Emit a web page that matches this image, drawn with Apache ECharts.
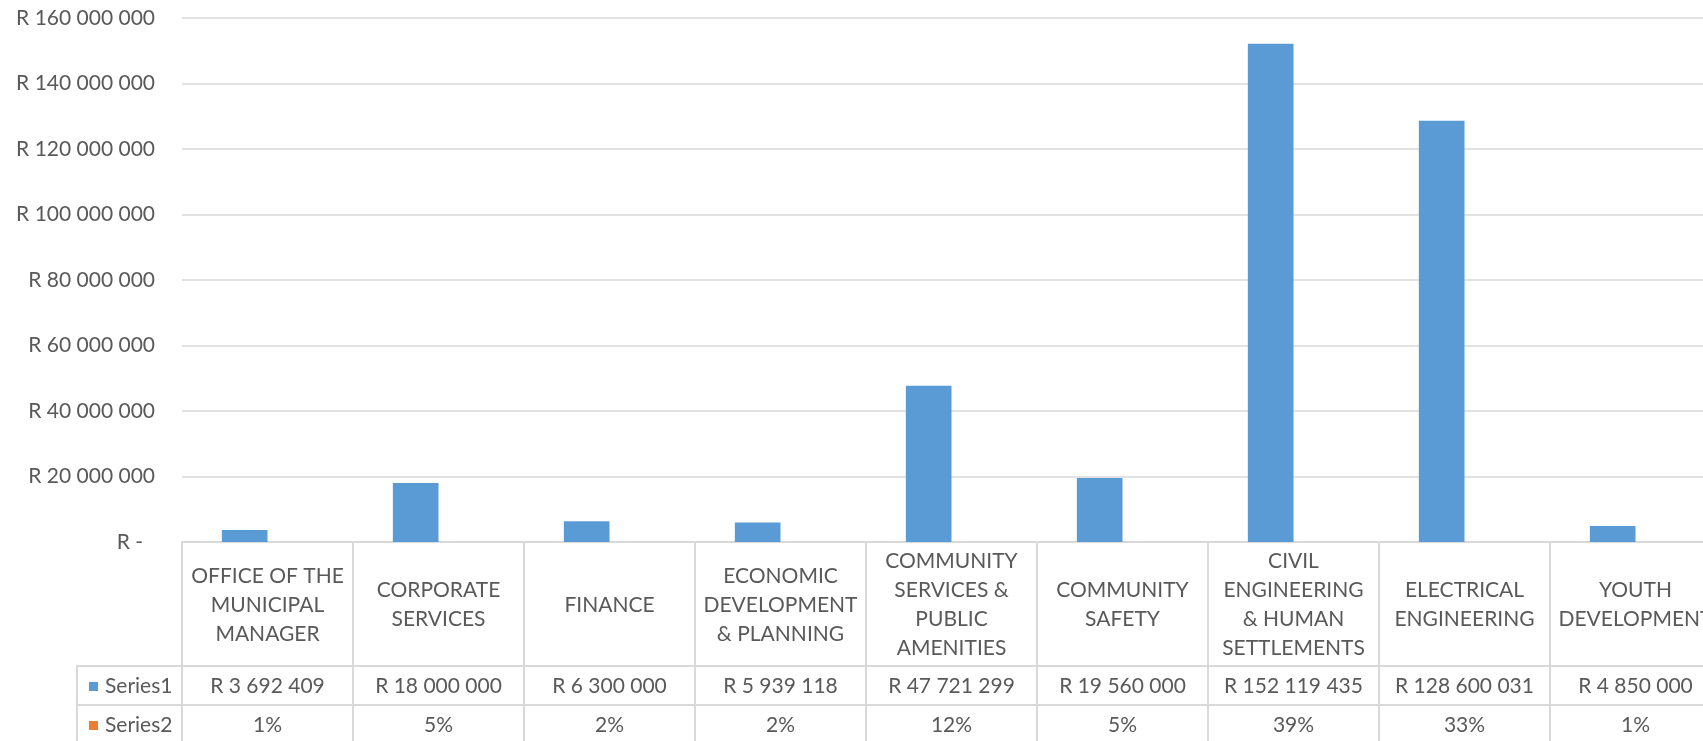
<!DOCTYPE html>
<html>
<head>
<meta charset="utf-8">
<script src="https://cdn.jsdelivr.net/npm/echarts@6/dist/echarts.min.js"></script>
<style>
  html, body { margin: 0; padding: 0; background: #fff; overflow: hidden; }
  /* the table runs past the right and bottom edges of the window */
  #chart { width: 1721px; height: 780px; }
</style>
</head>
<body>
<div id="chart"></div>
<script>
// Departments (header row of the data table, wrapped as in the table cells)
const categories = [
  'OFFICE OF THE\nMUNICIPAL\nMANAGER',
  'CORPORATE\nSERVICES',
  'FINANCE',
  'ECONOMIC\nDEVELOPMENT\n& PLANNING',
  'COMMUNITY\nSERVICES &\nPUBLIC\nAMENITIES',
  'COMMUNITY\nSAFETY',
  'CIVIL\nENGINEERING\n& HUMAN\nSETTLEMENTS',
  'ELECTRICAL\nENGINEERING',
  'YOUTH\nDEVELOPMENT'
];
// Series1: budget per department (Rand)
const series1 = [3692409, 18000000, 6300000, 5939118, 47721299, 19560000, 152119435, 128600031, 4850000];
// Series2: share of the total budget (percent)
const series2 = [1, 5, 2, 2, 12, 5, 39, 33, 1];
// Value axis ticks
const yMin = 0, yMax = 160000000, yStep = 20000000;

// Layout
const CANVAS_H = 780;
const GRID_TOP = 18;
const GRID_LEFT = 182;
const ZERO_Y = 542;          // y of the zero line / top of the data table
const HEADER_H = 124;        // header row height of the data table
const ROW_H = 39;            // value row height
const TABLE_LEFT = 77;
const LINE = '#D9D9D9';
const TEXT = '#595959';
const FONT = 'Lato';
const FS = 21;

const rand = n => 'R ' + String(n).replace(/\B(?=(\d{3})+(?!\d))/g, ' ');

const chart = echarts.init(document.getElementById('chart'), null, { renderer: 'canvas' });
const row1Y = ZERO_Y + HEADER_H;
const row2Y = row1Y + ROW_H;

chart.setOption({
  animation: false,
  textStyle: { fontFamily: FONT, color: TEXT },
  grid: { top: GRID_TOP, left: GRID_LEFT, right: 0, bottom: CANVAS_H - ZERO_Y, containLabel: false },
  legend: {
    orient: 'vertical',
    left: 89,
    top: row1Y + 1,
    padding: 0,
    itemGap: 0,
    itemWidth: 9,
    itemHeight: 9,
    icon: 'rect',
    textStyle: { fontFamily: FONT, fontSize: FS, color: TEXT, lineHeight: ROW_H, padding: [0, 0, 0, 2] },
    data: ['Series1', 'Series2']
  },
  xAxis: [
    {
      type: 'category',
      data: categories,
      position: 'bottom',
      axisLine: { show: true, lineStyle: { color: LINE, width: 2 } },
      axisTick: { show: true, length: 240, lineStyle: { color: LINE, width: 2 } },
      axisLabel: {
        interval: 0, margin: HEADER_H / 2 + 1, verticalAlign: 'middle',
        fontFamily: FONT, fontSize: FS, color: TEXT, lineHeight: 29, align: 'center'
      },
      splitLine: { show: false }
    },
    {
      type: 'category',
      data: series1.map(rand),
      position: 'bottom',
      offset: HEADER_H,
      axisLine: { show: true, lineStyle: { color: LINE, width: 2 } },
      axisTick: { show: false },
      axisLabel: { interval: 0, margin: ROW_H / 2 + 1, verticalAlign: 'middle', fontFamily: FONT, fontSize: FS, color: TEXT }
    },
    {
      type: 'category',
      data: series2.map(v => v + '%'),
      position: 'bottom',
      offset: HEADER_H + ROW_H,
      axisLine: { show: true, lineStyle: { color: LINE, width: 2 } },
      axisTick: { show: false },
      axisLabel: { interval: 0, margin: ROW_H / 2 + 1, verticalAlign: 'middle', fontFamily: FONT, fontSize: FS, color: TEXT }
    }
  ],
  yAxis: {
    type: 'value',
    min: yMin, max: yMax, interval: yStep,
    axisLine: { show: false },
    axisTick: { show: false },
    splitLine: { lineStyle: { color: LINE, width: 1.5 } },
    axisLabel: {
      margin: 27,
      fontFamily: FONT, fontSize: FS, color: TEXT,
      formatter: v => v === 0 ? '{z|R -}' : rand(v),
      rich: { z: { fontFamily: FONT, fontSize: FS, color: TEXT, padding: [0, 12, 0, 0] } }
    }
  },
  series: [
    {
      name: 'Series1', type: 'bar', xAxisIndex: 0,
      data: series1,
      barWidth: '26.7%', barGap: '0%',
      itemStyle: { color: '#5B9BD5' }
    },
    {
      name: 'Series2', type: 'bar', xAxisIndex: 0,
      data: series2.map(v => v / 100),
      barWidth: '26.7%', barGap: '0%',
      itemStyle: { color: '#ED7D31' }
    }
  ],
  graphic: [
    // left column of the data table holding the legend keys
    { type: 'line', silent: true, shape: { x1: TABLE_LEFT, y1: row1Y, x2: GRID_LEFT, y2: row1Y }, style: { stroke: LINE, lineWidth: 2 } },
    { type: 'line', silent: true, shape: { x1: TABLE_LEFT, y1: row2Y, x2: GRID_LEFT, y2: row2Y }, style: { stroke: LINE, lineWidth: 2 } },
    { type: 'line', silent: true, shape: { x1: TABLE_LEFT, y1: row1Y - 1, x2: TABLE_LEFT, y2: CANVAS_H }, style: { stroke: LINE, lineWidth: 2 } }
  ]
});
</script>
</body>
</html>
